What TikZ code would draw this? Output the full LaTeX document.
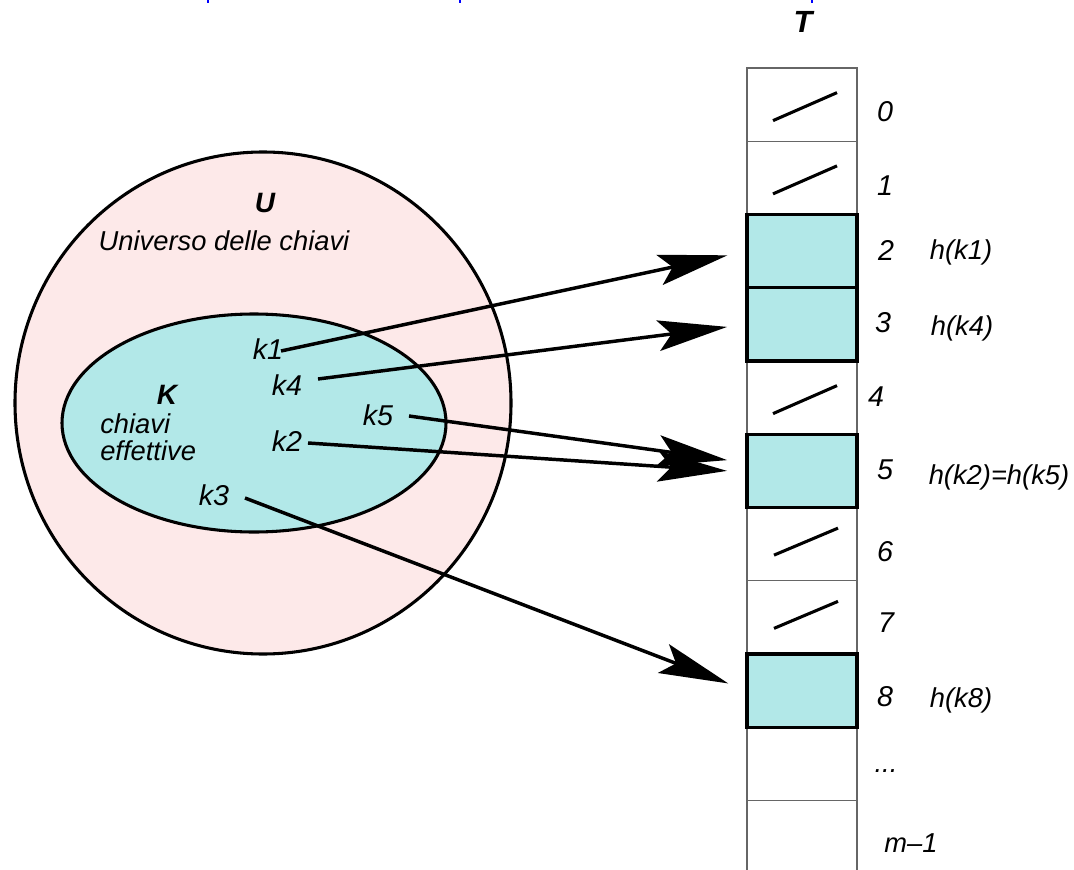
\documentclass[tikz,border=0pt]{standalone}
\usepackage{fontspec}
\setmainfont{Liberation Sans}
\usetikzlibrary{arrows.meta}

\definecolor{setpink}{RGB}{253,233,233}
\definecolor{slotcyan}{RGB}{178,232,232}

\begin{document}
\begin{tikzpicture}[x=0.75pt,y=-0.75pt,
  lbl/.style={font=\fontsize{20.5}{20.5}\selectfont\itshape, inner sep=0pt},
  key/.style={font=\fontsize{21.5}{21.5}\selectfont\itshape, inner sep=0pt},
  title/.style={font=\fontsize{21}{21}\selectfont\bfseries\itshape, inner sep=0pt},
  slot/.style={draw=black!60, line width=0.8pt, minimum width=82.5pt, minimum height=54.94pt, inner sep=0pt, outer sep=0pt},
  used/.style={slot, draw=black, line width=2.3pt, fill=slotcyan},
  nil/.style={line width=2.3pt},
  ptr/.style={line width=2.6pt, -{Stealth[length=52pt,width=23pt,inset=10pt]}, shorten >=15pt},
]
\useasboundingbox (0,0) rectangle (1074,870);

% fragments of the heading line
\fill[blue] (207,0) rectangle (209,3);
\fill[blue] (459,0) rectangle (461,3);
\fill[blue] (811,0) rectangle (813,3);

% universe of keys and the set of actual keys
\draw[line width=2.3pt, fill=setpink] (263,403) ellipse [x radius=248, y radius=251];
\draw[line width=2.3pt, fill=slotcyan] (254,423) ellipse [x radius=192, y radius=109];

\node[title] (U) at (265,203) {U};
\node[lbl, anchor=base] (univ) at (224,250) {Universo delle chiavi};
\node[title] (K) at (167,395) {K};
\node[lbl, anchor=base west] (kch) at (100,433) {chiavi};
\node[lbl, anchor=base west] (kef) at (100,460) {effettive};

\node[key] (k1) at (268,349) {k1};
\node[key] (k4) at (287,385) {k4};
\node[key] (k5) at (378,415) {k5};
\node[key] (k2) at (287,441) {k2};
\node[key] (k3) at (214,495) {k3};

% hash table T
\node[title, font=\fontsize{23}{23}\selectfont\bfseries\itshape] (T) at (803,22) {T};
\foreach \i in {0,1,4,6,7,9,10}
  \node[slot] (r\i) at (802,{68+73.25*(\i+0.5)}) {};
\foreach \i in {2,3,5,8}
  \node[used] (r\i) at (802,{68+73.25*(\i+0.5)}) {};

% nil pointers in the empty slots
\foreach \i in {0,1,4}
  \draw[nil] ([shift={(-29,16)}]r\i.center) -- ([shift={(35,-12)}]r\i.center);
\foreach \i in {6,7}
  \draw[nil] ([shift={(-28,11)}]r\i.center) -- ([shift={(36,-16)}]r\i.center);

% slot indices
\node[key] (i0) at (885,112) {0};
\node[key] (i1) at (885,186) {1};
\node[key] (i2) at (886,250) {2};
\node[key] (i3) at (883,323) {3};
\node[key] (i4) at (876,397) {4};
\node[key] (i5) at (885,470) {5};
\node[key] (i6) at (885,552) {6};
\node[key] (i7) at (886,623) {7};
\node[key] (i8) at (885,697) {8};
\node[lbl, anchor=base] (i9) at (886,772) {...};
\node[lbl] (i10) at (911,843) {m--1};

% hash values
\node[lbl] (h1) at (961,252) {h(k1)};
\node[lbl] (h4) at (962,328) {h(k4)};
\node[lbl] (h25) at (999,477) {h(k2)=h(k5)};
\node[lbl] (h8) at (961,700) {h(k8)};

% pointers from keys to slots
\coordinate (s1) at (281,351);
\coordinate (s4) at (318,379);
\coordinate (s5) at (409,416);
\coordinate (s2) at (308,443);
\coordinate (s3) at (245,498);
\draw[ptr] (s1) -- (r2.west);
\draw[ptr] (s4) -- (r3.west);
\draw[ptr] (s5) -- ([yshift=6pt]r5.west);
\draw[ptr] (s2) -- ([yshift=-1pt]r5.west);
\draw[ptr] (s3) -- (r8.west);
\end{tikzpicture}
\end{document}
